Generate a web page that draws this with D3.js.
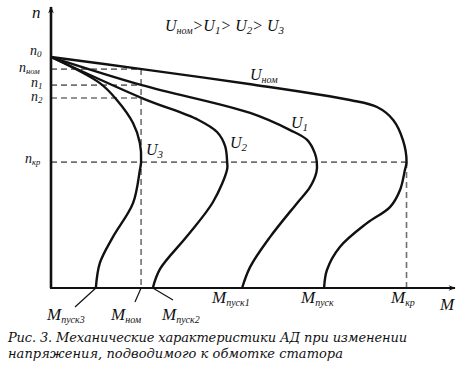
<!DOCTYPE html>
<html><head><meta charset="utf-8">
<script src="https://cdn.jsdelivr.net/npm/d3@7"></script>
<style>
html,body{margin:0;padding:0;background:#fff;}
svg{display:block;}
text{font-family:"Liberation Serif","Times New Roman",serif;font-style:italic;fill:#111;}
text.cap{font-family:"DejaVu Serif",serif;}
</style></head>
<body>
<svg id="c" width="465" height="368"></svg>
<script>
// ---- data (M in relative torque units, n in relative speed units) ----
const nLevels = [
  {name:"0", n:82.2},
  {name:"ном", n:77.9},
  {name:"1", n:72.2},
  {name:"2", n:67.6},
  {name:"кр", n:44.8}
];
const Mmarks = {nom:22.3, kr:88.0, pusk:67.6, pusk1:47.3, pusk2:25.2, pusk3:11.1};

const seriesNames = ["Uном","U1","U2","U3"];
// Points for each curve: [M, n]
const ptsUnom = [[0,82.2],[22.5,77.9],[49,72.6],[74,66.9],[80.7,64.4],[84.7,59.8],[87.1,52.7],[88.0,44.8],[87.6,42.0],[86.4,34.9],[83.9,28.8],[78.2,23.1],[71.5,14.6],[68.3,6.4],[67.6,0]];
const ptsU1   = [[0,82.2],[22.5,72.2],[49.3,62.3],[59.2,56.2],[63.4,52.7],[65.3,48.0],[65.8,44.8],[65.7,41.2],[64.1,35.9],[60.9,30.2],[54.2,18.1],[49.3,7.5],[47.3,0]];
const ptsU2   = [[0,82.2],[22.5,67.6],[36.5,59.8],[41.1,55.5],[43.1,50.5],[43.6,44.8],[43.6,42.3],[40.1,30.6],[33.7,18.5],[27.0,6.8],[25.2,0]];
const ptsU3   = [[0,82.2],[12.1,72.9],[16.3,66.9],[20.3,58.7],[22.0,51.6],[22.3,44.8],[22.0,42.0],[20.3,30.2],[15.3,18.1],[12.1,8.9],[11.1,0]];

// ---- layout ----
const svg = d3.select("#c");
const x = d3.scaleLinear().domain([0,100]).range([51,455]);
const y = d3.scaleLinear().domain([0,100]).range([288,7]);

// arrow marker
const defs = svg.append("defs");
defs.append("marker").attr("id","arr").attr("viewBox","0 0 10 10")
  .attr("refX",9).attr("refY",5).attr("markerWidth",9).attr("markerHeight",7)
  .attr("markerUnits","userSpaceOnUse").attr("orient","auto")
  .append("path").attr("d","M0,1 L10,5 L0,9 L3,5 Z").attr("fill","#111");

// dashed helper lines
const dash = svg.append("g").attr("stroke","#707070").attr("stroke-width",1.6)
  .attr("stroke-dasharray","6,4").attr("fill","none");
[nLevels[1],nLevels[2],nLevels[3]].forEach(l=>{
  dash.append("line").attr("x1",x(0)).attr("x2",x(Mmarks.nom)+1).attr("y1",y(l.n)).attr("y2",y(l.n));
});
dash.append("line").attr("x1",x(0)).attr("x2",x(Mmarks.kr)).attr("y1",y(nLevels[4].n)).attr("y2",y(nLevels[4].n));
dash.append("line").attr("x1",x(Mmarks.nom)).attr("x2",x(Mmarks.nom)).attr("y1",y(nLevels[1].n)).attr("y2",y(0));
dash.append("line").attr("x1",x(Mmarks.kr)).attr("x2",x(Mmarks.kr)).attr("y1",y(nLevels[4].n)).attr("y2",y(0));

// axes
svg.append("line").attr("x1",x(0)).attr("y1",y(0)).attr("x2",x(0)).attr("y2",y(100))
  .attr("stroke","#111").attr("stroke-width",2.6).attr("marker-end","url(#arr)");
svg.append("line").attr("x1",x(0)-1).attr("y1",y(0)).attr("x2",x(100)).attr("y2",y(0))
  .attr("stroke","#111").attr("stroke-width",2.2).attr("marker-end","url(#arr)");

// curves
const line = d3.line().x(d=>x(d[0])).y(d=>y(d[1])).curve(d3.curveCatmullRom.alpha(0.5));
[ptsUnom,ptsU1,ptsU2,ptsU3].forEach(p=>{
  svg.append("path").datum(p).attr("d",line).attr("fill","none")
    .attr("stroke","#111").attr("stroke-width",2.4).attr("stroke-linejoin","round");
});

// leader lines to bottom labels
const lead = svg.append("g").attr("stroke","#111").attr("stroke-width",1.2);
lead.append("line").attr("x1",x(Mmarks.pusk3)).attr("y1",y(0)).attr("x2",75).attr("y2",307);
lead.append("line").attr("x1",x(Mmarks.nom)).attr("y1",y(0)).attr("x2",135).attr("y2",302);
lead.append("line").attr("x1",x(Mmarks.pusk2)).attr("y1",y(0)).attr("x2",173).attr("y2",300);

// label helper: main + subscript
function lab(xp, yp, main, sub, size, subSize, dy){
  const t = svg.append("text").attr("x",xp).attr("y",yp).attr("font-size",size);
  t.append("tspan").text(main);
  if(sub) t.append("tspan").attr("font-size",subSize).attr("dy",dy==null?3:dy).text(sub);
  return t;
}
// axis titles
lab(32,18,"n",null,17,11);
lab(440,310,"M",null,17,11);
// n labels
lab(30,55,"n","0",14,9,2);
lab(19,72,"n","ном",14,8.5,2);
lab(31,87,"n","1",14,9,2);
lab(31,101,"n","2",14,9,2);
lab(25,163,"n","кр",14,8.5,2);
// M labels
lab(47,320,"M","пуск3",17,10);
lab(111,320,"M","ном",17,10);
lab(162,320,"M","пуск2",17,10);
lab(212,303,"M","пуск1",17,10);
lab(301,303,"M","пуск",17,10);
lab(391,303,"M","кр",17,10);
// curve labels
lab(250,80,"U","ном",16,10);
lab(291,128,"U","1",16,11);
lab(230,148,"U","2",16,11);
lab(146,155,"U","3",16,11);
// relation
const rel = svg.append("text").attr("x",165).attr("y",31).attr("font-size",16);
rel.append("tspan").text("U");
rel.append("tspan").attr("font-size",10).attr("dy",3).text("ном");
rel.append("tspan").attr("dy",-3).text(">U");
rel.append("tspan").attr("font-size",11).attr("dy",3).text("1");
rel.append("tspan").attr("dy",-3).text("> U");
rel.append("tspan").attr("font-size",11).attr("dy",3).text("2");
rel.append("tspan").attr("dy",-3).text("> U");
rel.append("tspan").attr("font-size",11).attr("dy",3).text("3");

// caption
const capLines = ["Рис. 3. Механические характеристики АД при изменении","напряжения, подводимого к обмотке статора"];
const capLen = [399, 335];
svg.selectAll("text.cap").data(capLines).enter().append("text").attr("class","cap")
  .attr("x",8).attr("y",(d,i)=>342+i*16).attr("font-size",13)
  .attr("textLength",(d,i)=>capLen[i]).attr("lengthAdjust","spacing").text(d=>d);
</script>
</body></html>
